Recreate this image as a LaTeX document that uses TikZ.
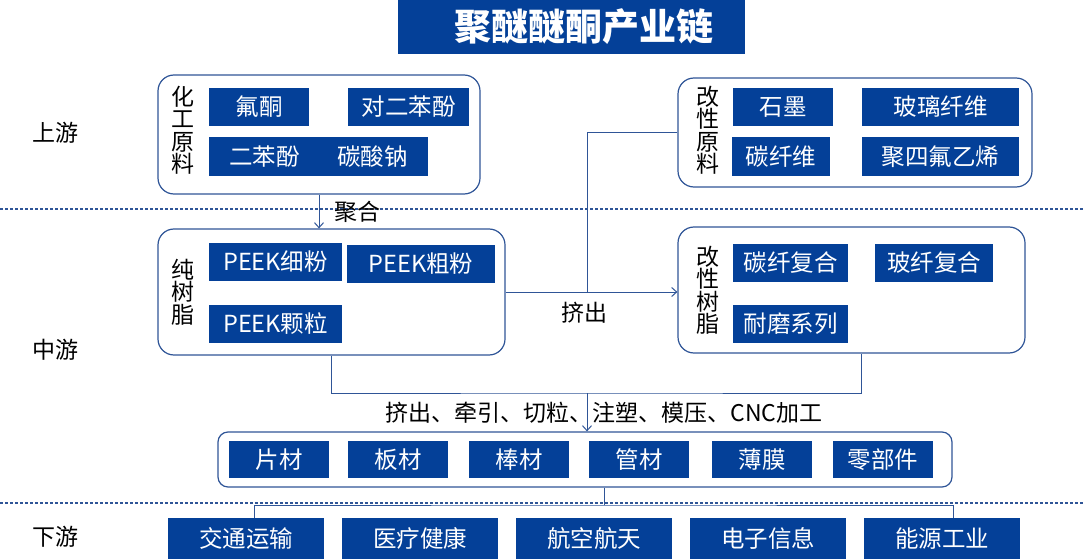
\documentclass[tikz,border=0pt]{standalone}
\usepackage{fontspec}
\setmainfont{Noto Sans CJK SC}
\usetikzlibrary{arrows.meta,positioning}
\definecolor{chainblue}{RGB}{4,64,152}
\definecolor{edgeblue}{RGB}{47,85,151}

\begin{document}
\begin{tikzpicture}[x=1pt,y=-1pt,
  tag/.style={fill=chainblue,text=white,inner sep=0pt,minimum height=38,
    font=\fontsize{23.5}{25}\selectfont},
  grp/.style={draw=edgeblue,line width=1.2pt,rounded corners=16pt,inner sep=0pt},
  vlab/.style={align=center,inner sep=0pt,font=\fontsize{23}{22.5}\selectfont},
  lab/.style={font=\fontsize{23}{25}\selectfont,inner sep=1pt},
  link/.style={draw=edgeblue,line width=1pt},
  arr/.style={link,-{Straight Barb[length=5pt,width=9pt]}},
  stage/.style={draw=edgeblue,line width=1.1pt,dash pattern=on 3pt off 2pt}]
 \useasboundingbox (0,0) rectangle (1084,559);
 % title
 \node[fill=chainblue,text=white,minimum width=347,minimum height=54,inner sep=0pt] (title) at (571.5,27) {};
 \node[text=white,font=\fontsize{37}{40}\selectfont\bfseries] (titletxt) at (584,27) {聚醚醚酮产业链};
 % stage borders
 \draw[stage] (0,209) -- (1084,209);
 \draw[stage] (0,503) -- (1084,503);
 \node[lab] (up) at (55,133) {上游};
 \node[lab] (mid) at (55,350) {中游};
 \node[lab] (down) at (55,537) {下游};

 % raw materials
 \node[grp,minimum width=322,minimum height=119] (raw) at (319,134.5) {};
 \node[vlab] (rawlab) at (183,130) {化\\工\\原\\料};
 \node[tag,minimum width=100] (fk) at (259,107) {氟酮};
 \node[tag,minimum width=121] (dbf) at (408.5,107) {对二苯酚};
 \node[tag,minimum width=219] (ebf) at (318.5,156.5) {二苯酚\hspace{1.6em}碳酸钠};

 \node[grp,minimum width=354,minimum height=109] (modraw) at (855,132.5) {};
 \node[vlab] (modrawlab) at (708,130) {改\\性\\原\\料};
 \node[tag,minimum width=100] (sm) at (783,107) {石墨};
 \node[tag,minimum width=157] (blxw) at (940.5,107) {玻璃纤维};
 \node[tag,minimum width=98] (txw) at (781,156.5) {碳纤维};
 \node[tag,minimum width=157] (ptfe) at (940.5,156.5) {聚四氟乙烯};

 % resins
 \node[grp,minimum width=347,minimum height=126] (pure) at (331.5,292) {};
 \node[vlab] (purelab) at (183,292) {纯\\树\\脂};
 \node[tag,minimum width=133] (fine) at (275.5,262) {PEEK细粉};
 \node[tag,minimum width=148] (coarse) at (421,263.5) {PEEK粗粉};
 \node[tag,minimum width=133] (pellet) at (275.5,324) {PEEK颗粒};

 \node[grp,minimum width=347,minimum height=126] (modres) at (851.5,290) {};
 \node[vlab] (modreslab) at (708,290) {改\\性\\树\\脂};
 \node[tag,minimum width=115] (cf) at (790.5,263) {碳纤复合};
 \node[tag,minimum width=118] (gf) at (934,263) {玻纤复合};
 \node[tag,minimum width=115] (wear) at (790.5,324) {耐磨系列};

 % products
 \node[grp,rounded corners=10pt,minimum width=734,minimum height=55] (prod) at (585,459.5) {};
 \node[tag,minimum width=100,minimum height=37] (p1) at (279,459.5) {片材};
 \node[tag,minimum width=100,minimum height=37] (p2) at (398,459.5) {板材};
 \node[tag,minimum width=100,minimum height=37] (p3) at (519,459.5) {棒材};
 \node[tag,minimum width=100,minimum height=37] (p4) at (639,459.5) {管材};
 \node[tag,minimum width=100,minimum height=37] (p5) at (762,459.5) {薄膜};
 \node[tag,minimum width=100,minimum height=37] (p6) at (883,459.5) {零部件};

 % applications
 \node[tag,minimum width=156,minimum height=41] (u1) at (246,538.5) {交通运输};
 \node[tag,minimum width=156,minimum height=41] (u2) at (420,538.5) {医疗健康};
 \node[tag,minimum width=156,minimum height=41] (u3) at (594,538.5) {航空航天};
 \node[tag,minimum width=156,minimum height=41] (u4) at (768,538.5) {电子信息};
 \node[tag,minimum width=156,minimum height=41] (u5) at (942,538.5) {能源工业};

 % connectors
 \draw[arr] (raw.south) -- (raw.south |- pure.north);
 \node[lab,anchor=west] (poly) at (333,212) {聚合};
 \coordinate (j1) at (587,292);
 \draw[arr] (pure.east) -- (pure.east -| modres.west);
 \draw[link] (modraw.west) -| (j1);
 \node[lab] (ext) at (584,313) {挤出};
 \coordinate (j2) at (587,393);
 \draw[link] (pure.south) |- (j2) -| ([xshift=10]modres.south);
 \draw[arr] (j2) -- (j2 |- prod.north);
 \node[lab] (proc) at (604,413) {挤出、牵引、切粒、注塑、模压、CNC加工};
 \coordinate (j3) at (604,505);
 \draw[link] ([xshift=19]prod.south) -- (j3);
 \draw[link] ([xshift=8]u1.north) |- (j3) -| ([xshift=11]u5.north);
\end{tikzpicture}
\end{document}
